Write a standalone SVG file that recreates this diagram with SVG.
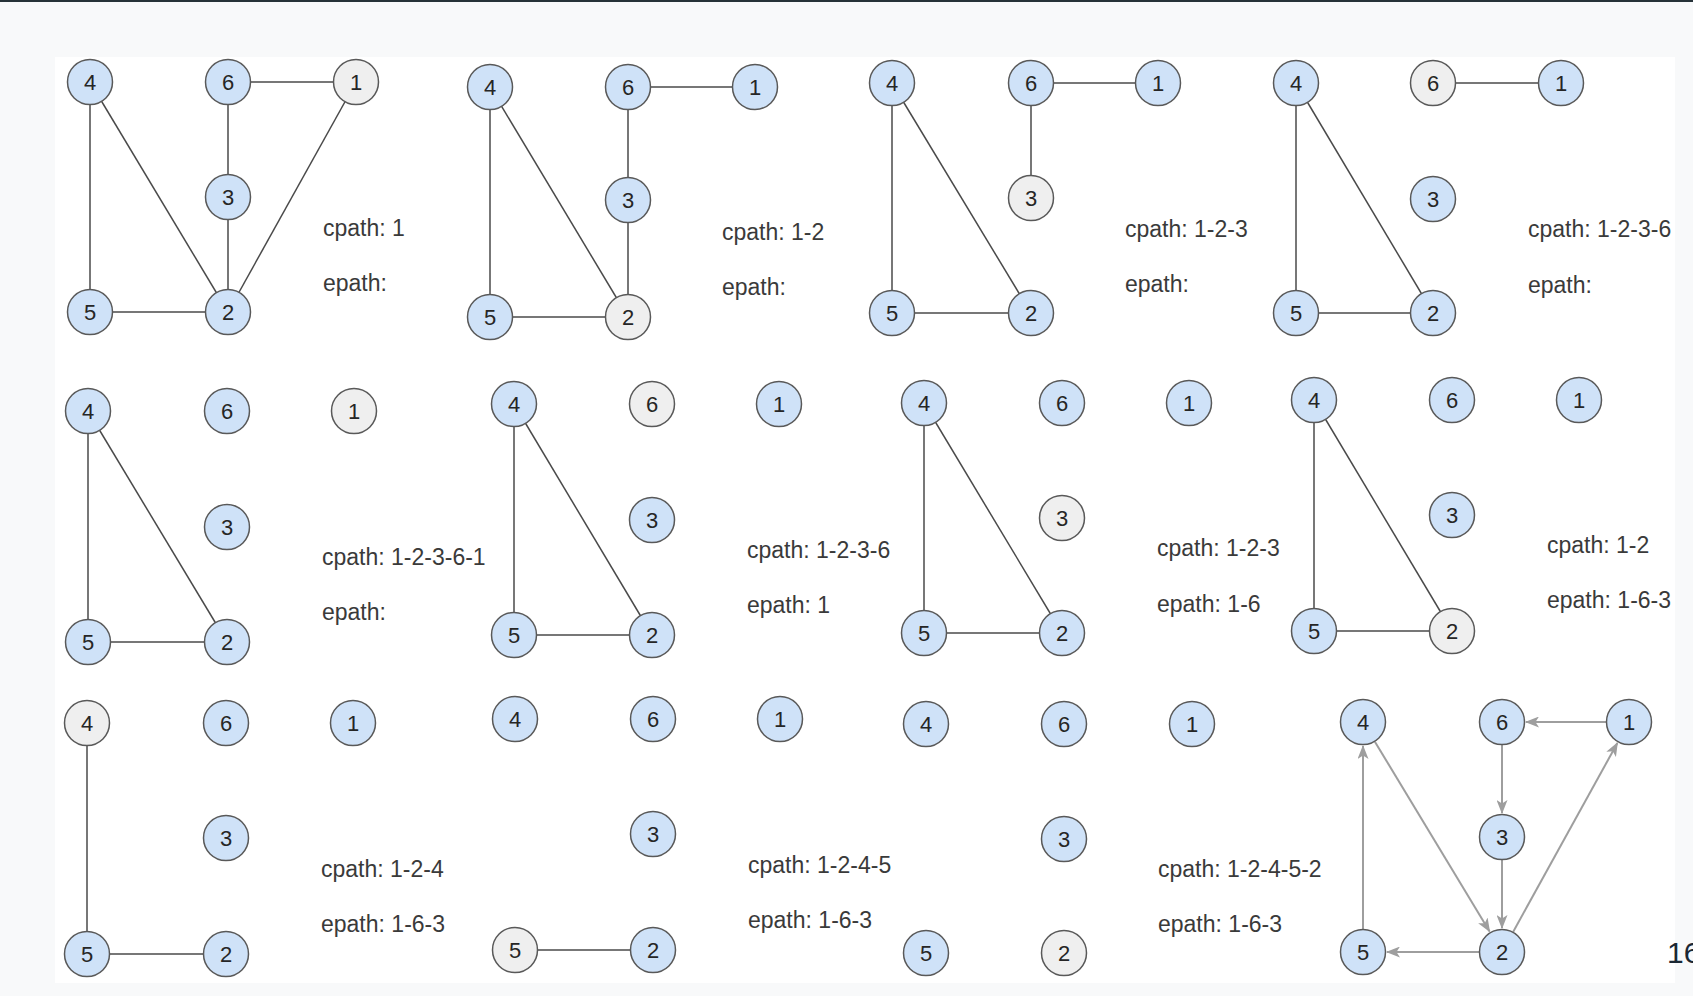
<svg xmlns="http://www.w3.org/2000/svg" width="1693" height="996" viewBox="0 0 1693 996">
<style>
.n circle{stroke:#595959;stroke-width:1.5}
.b circle{fill:#cfe2f8}
.g circle{fill:#efefef}
.n text{font-family:"Liberation Sans",Arial,sans-serif;font-size:22px;fill:#262626;text-anchor:middle}
.e line{stroke:#4a4a4a;stroke-width:1.5}
.a line{stroke:#9e9e9e;stroke-width:2;marker-end:url(#ah)}
.lbl{font-family:"Liberation Sans",Arial,sans-serif;font-size:23px;fill:#3a3a3a}
</style>
<defs>
<marker id="ah" viewBox="0 0 14 11" refX="13" refY="5.5" markerWidth="14" markerHeight="11" markerUnits="userSpaceOnUse" orient="auto">
<path d="M0,0 L14,5.5 L0,11 L3.5,5.5 z" fill="#9e9e9e"/>
</marker>
</defs>
<rect x="0" y="0" width="1693" height="996" fill="#f8f9fa"/>
<rect x="0" y="0" width="1693" height="2" fill="#263238"/>
<rect x="55" y="57" width="1620" height="926" fill="#ffffff"/>

<g id="connectors">
<g class="e">
<line x1="90" y1="82" x2="90" y2="312"/><line x1="90" y1="82" x2="228" y2="312"/><line x1="90" y1="312" x2="228" y2="312"/>
<line x1="228" y1="82" x2="356" y2="82"/><line x1="228" y1="82" x2="228" y2="197"/><line x1="228" y1="197" x2="228" y2="312"/><line x1="356" y1="82" x2="228" y2="312"/>
<line x1="490" y1="87" x2="490" y2="317"/><line x1="490" y1="87" x2="628" y2="317"/><line x1="490" y1="317" x2="628" y2="317"/>
<line x1="628" y1="87" x2="755" y2="87"/><line x1="628" y1="87" x2="628" y2="200"/><line x1="628" y1="200" x2="628" y2="317"/>
<line x1="892" y1="83" x2="892" y2="313"/><line x1="892" y1="83" x2="1031" y2="313"/><line x1="892" y1="313" x2="1031" y2="313"/>
<line x1="1031" y1="83" x2="1158" y2="83"/><line x1="1031" y1="83" x2="1031" y2="198"/>
<line x1="1296" y1="83" x2="1296" y2="313"/><line x1="1296" y1="83" x2="1433" y2="313"/><line x1="1296" y1="313" x2="1433" y2="313"/>
<line x1="1433" y1="83" x2="1561" y2="83"/>
<line x1="88" y1="411" x2="88" y2="642"/><line x1="88" y1="411" x2="227" y2="642"/><line x1="88" y1="642" x2="227" y2="642"/>
<line x1="514" y1="404" x2="514" y2="635"/><line x1="514" y1="404" x2="652" y2="635"/><line x1="514" y1="635" x2="652" y2="635"/>
<line x1="924" y1="403" x2="924" y2="633"/><line x1="924" y1="403" x2="1062" y2="633"/><line x1="924" y1="633" x2="1062" y2="633"/>
<line x1="1314" y1="400" x2="1314" y2="631"/><line x1="1314" y1="400" x2="1452" y2="631"/><line x1="1314" y1="631" x2="1452" y2="631"/>
<line x1="87" y1="723" x2="87" y2="954"/><line x1="87" y1="954" x2="226" y2="954"/>
<line x1="515" y1="950" x2="653" y2="950"/>
</g>
<g class="a">
<line x1="1606" y1="722" x2="1526" y2="722"/>
<line x1="1502" y1="745" x2="1502" y2="813"/>
<line x1="1502" y1="860" x2="1502" y2="928"/>
<line x1="1363" y1="929" x2="1363" y2="746"/>
<line x1="1479" y1="952" x2="1387" y2="952"/>
<line x1="1374.9" y1="741.7" x2="1489.6" y2="931.5"/>
<line x1="1513.1" y1="931.9" x2="1617.4" y2="743"/>
</g>
</g>

<g id="panel1">
<g id="p1-n4" class="n b" transform="translate(90,82)"><circle r="22.5"/><text y="8">4</text></g>
<g id="p1-n6" class="n b" transform="translate(228,82)"><circle r="22.5"/><text y="8">6</text></g>
<g id="p1-n1" class="n g" transform="translate(356,82)"><circle r="22.5"/><text y="8">1</text></g>
<g id="p1-n3" class="n b" transform="translate(228,197)"><circle r="22.5"/><text y="8">3</text></g>
<g id="p1-n5" class="n b" transform="translate(90,312)"><circle r="22.5"/><text y="8">5</text></g>
<g id="p1-n2" class="n b" transform="translate(228,312)"><circle r="22.5"/><text y="8">2</text></g>
<text class="lbl" x="323" y="236">cpath: 1</text>
<text class="lbl" x="323" y="291">epath:</text>
</g>

<g id="panel2">
<g id="p2-n4" class="n b" transform="translate(490,87)"><circle r="22.5"/><text y="8">4</text></g>
<g id="p2-n6" class="n b" transform="translate(628,87)"><circle r="22.5"/><text y="8">6</text></g>
<g id="p2-n1" class="n b" transform="translate(755,87)"><circle r="22.5"/><text y="8">1</text></g>
<g id="p2-n3" class="n b" transform="translate(628,200)"><circle r="22.5"/><text y="8">3</text></g>
<g id="p2-n5" class="n b" transform="translate(490,317)"><circle r="22.5"/><text y="8">5</text></g>
<g id="p2-n2" class="n g" transform="translate(628,317)"><circle r="22.5"/><text y="8">2</text></g>
<text class="lbl" x="722" y="240">cpath: 1-2</text>
<text class="lbl" x="722" y="295">epath:</text>
</g>

<g id="panel3">
<g id="p3-n4" class="n b" transform="translate(892,83)"><circle r="22.5"/><text y="8">4</text></g>
<g id="p3-n6" class="n b" transform="translate(1031,83)"><circle r="22.5"/><text y="8">6</text></g>
<g id="p3-n1" class="n b" transform="translate(1158,83)"><circle r="22.5"/><text y="8">1</text></g>
<g id="p3-n3" class="n g" transform="translate(1031,198)"><circle r="22.5"/><text y="8">3</text></g>
<g id="p3-n5" class="n b" transform="translate(892,313)"><circle r="22.5"/><text y="8">5</text></g>
<g id="p3-n2" class="n b" transform="translate(1031,313)"><circle r="22.5"/><text y="8">2</text></g>
<text class="lbl" x="1125" y="237">cpath: 1-2-3</text>
<text class="lbl" x="1125" y="292">epath:</text>
</g>

<g id="panel4">
<g id="p4-n4" class="n b" transform="translate(1296,83)"><circle r="22.5"/><text y="8">4</text></g>
<g id="p4-n6" class="n g" transform="translate(1433,83)"><circle r="22.5"/><text y="8">6</text></g>
<g id="p4-n1" class="n b" transform="translate(1561,83)"><circle r="22.5"/><text y="8">1</text></g>
<g id="p4-n3" class="n b" transform="translate(1433,199)"><circle r="22.5"/><text y="8">3</text></g>
<g id="p4-n5" class="n b" transform="translate(1296,313)"><circle r="22.5"/><text y="8">5</text></g>
<g id="p4-n2" class="n b" transform="translate(1433,313)"><circle r="22.5"/><text y="8">2</text></g>
<text class="lbl" x="1528" y="237">cpath: 1-2-3-6</text>
<text class="lbl" x="1528" y="293">epath:</text>
</g>

<g id="panel5">
<g id="p5-n4" class="n b" transform="translate(88,411)"><circle r="22.5"/><text y="8">4</text></g>
<g id="p5-n6" class="n b" transform="translate(227,411)"><circle r="22.5"/><text y="8">6</text></g>
<g id="p5-n1" class="n g" transform="translate(354,411)"><circle r="22.5"/><text y="8">1</text></g>
<g id="p5-n3" class="n b" transform="translate(227,527)"><circle r="22.5"/><text y="8">3</text></g>
<g id="p5-n5" class="n b" transform="translate(88,642)"><circle r="22.5"/><text y="8">5</text></g>
<g id="p5-n2" class="n b" transform="translate(227,642)"><circle r="22.5"/><text y="8">2</text></g>
<text class="lbl" x="322" y="565">cpath: 1-2-3-6-1</text>
<text class="lbl" x="322" y="620">epath:</text>
</g>

<g id="panel6">
<g id="p6-n4" class="n b" transform="translate(514,404)"><circle r="22.5"/><text y="8">4</text></g>
<g id="p6-n6" class="n g" transform="translate(652,404)"><circle r="22.5"/><text y="8">6</text></g>
<g id="p6-n1" class="n b" transform="translate(779,404)"><circle r="22.5"/><text y="8">1</text></g>
<g id="p6-n3" class="n b" transform="translate(652,520)"><circle r="22.5"/><text y="8">3</text></g>
<g id="p6-n5" class="n b" transform="translate(514,635)"><circle r="22.5"/><text y="8">5</text></g>
<g id="p6-n2" class="n b" transform="translate(652,635)"><circle r="22.5"/><text y="8">2</text></g>
<text class="lbl" x="747" y="558">cpath: 1-2-3-6</text>
<text class="lbl" x="747" y="613">epath: 1</text>
</g>

<g id="panel7">
<g id="p7-n4" class="n b" transform="translate(924,403)"><circle r="22.5"/><text y="8">4</text></g>
<g id="p7-n6" class="n b" transform="translate(1062,403)"><circle r="22.5"/><text y="8">6</text></g>
<g id="p7-n1" class="n b" transform="translate(1189,403)"><circle r="22.5"/><text y="8">1</text></g>
<g id="p7-n3" class="n g" transform="translate(1062,518)"><circle r="22.5"/><text y="8">3</text></g>
<g id="p7-n5" class="n b" transform="translate(924,633)"><circle r="22.5"/><text y="8">5</text></g>
<g id="p7-n2" class="n b" transform="translate(1062,633)"><circle r="22.5"/><text y="8">2</text></g>
<text class="lbl" x="1157" y="556">cpath: 1-2-3</text>
<text class="lbl" x="1157" y="612">epath: 1-6</text>
</g>

<g id="panel8">
<g id="p8-n4" class="n b" transform="translate(1314,400)"><circle r="22.5"/><text y="8">4</text></g>
<g id="p8-n6" class="n b" transform="translate(1452,400)"><circle r="22.5"/><text y="8">6</text></g>
<g id="p8-n1" class="n b" transform="translate(1579,400)"><circle r="22.5"/><text y="8">1</text></g>
<g id="p8-n3" class="n b" transform="translate(1452,515)"><circle r="22.5"/><text y="8">3</text></g>
<g id="p8-n5" class="n b" transform="translate(1314,631)"><circle r="22.5"/><text y="8">5</text></g>
<g id="p8-n2" class="n g" transform="translate(1452,631)"><circle r="22.5"/><text y="8">2</text></g>
<text class="lbl" x="1547" y="553">cpath: 1-2</text>
<text class="lbl" x="1547" y="608">epath: 1-6-3</text>
</g>

<g id="panel9">
<g id="p9-n4" class="n g" transform="translate(87,723)"><circle r="22.5"/><text y="8">4</text></g>
<g id="p9-n6" class="n b" transform="translate(226,723)"><circle r="22.5"/><text y="8">6</text></g>
<g id="p9-n1" class="n b" transform="translate(353,723)"><circle r="22.5"/><text y="8">1</text></g>
<g id="p9-n3" class="n b" transform="translate(226,838)"><circle r="22.5"/><text y="8">3</text></g>
<g id="p9-n5" class="n b" transform="translate(87,954)"><circle r="22.5"/><text y="8">5</text></g>
<g id="p9-n2" class="n b" transform="translate(226,954)"><circle r="22.5"/><text y="8">2</text></g>
<text class="lbl" x="321" y="877">cpath: 1-2-4</text>
<text class="lbl" x="321" y="932">epath: 1-6-3</text>
</g>

<g id="panel10">
<g id="p10-n4" class="n b" transform="translate(515,719)"><circle r="22.5"/><text y="8">4</text></g>
<g id="p10-n6" class="n b" transform="translate(653,719)"><circle r="22.5"/><text y="8">6</text></g>
<g id="p10-n1" class="n b" transform="translate(780,719)"><circle r="22.5"/><text y="8">1</text></g>
<g id="p10-n3" class="n b" transform="translate(653,834)"><circle r="22.5"/><text y="8">3</text></g>
<g id="p10-n5" class="n g" transform="translate(515,950)"><circle r="22.5"/><text y="8">5</text></g>
<g id="p10-n2" class="n b" transform="translate(653,950)"><circle r="22.5"/><text y="8">2</text></g>
<text class="lbl" x="748" y="873">cpath: 1-2-4-5</text>
<text class="lbl" x="748" y="928">epath: 1-6-3</text>
</g>

<g id="panel11">
<g id="p11-n4" class="n b" transform="translate(926,724)"><circle r="22.5"/><text y="8">4</text></g>
<g id="p11-n6" class="n b" transform="translate(1064,724)"><circle r="22.5"/><text y="8">6</text></g>
<g id="p11-n1" class="n b" transform="translate(1192,724)"><circle r="22.5"/><text y="8">1</text></g>
<g id="p11-n3" class="n b" transform="translate(1064,839)"><circle r="22.5"/><text y="8">3</text></g>
<g id="p11-n5" class="n b" transform="translate(926,953)"><circle r="22.5"/><text y="8">5</text></g>
<g id="p11-n2" class="n g" transform="translate(1064,953)"><circle r="22.5"/><text y="8">2</text></g>
<text class="lbl" x="1158" y="877">cpath: 1-2-4-5-2</text>
<text class="lbl" x="1158" y="932">epath: 1-6-3</text>
</g>

<g id="panel12">
<g id="p12-n4" class="n b" transform="translate(1363,722)"><circle r="22.5"/><text y="8">4</text></g>
<g id="p12-n6" class="n b" transform="translate(1502,722)"><circle r="22.5"/><text y="8">6</text></g>
<g id="p12-n1" class="n b" transform="translate(1629,722)"><circle r="22.5"/><text y="8">1</text></g>
<g id="p12-n3" class="n b" transform="translate(1502,837)"><circle r="22.5"/><text y="8">3</text></g>
<g id="p12-n5" class="n b" transform="translate(1363,952)"><circle r="22.5"/><text y="8">5</text></g>
<g id="p12-n2" class="n b" transform="translate(1502,952)"><circle r="22.5"/><text y="8">2</text></g>
</g>

<text x="1667" y="963" font-family="'Liberation Sans',Arial,sans-serif" font-size="30" fill="#1a2733">16</text>
</svg>
